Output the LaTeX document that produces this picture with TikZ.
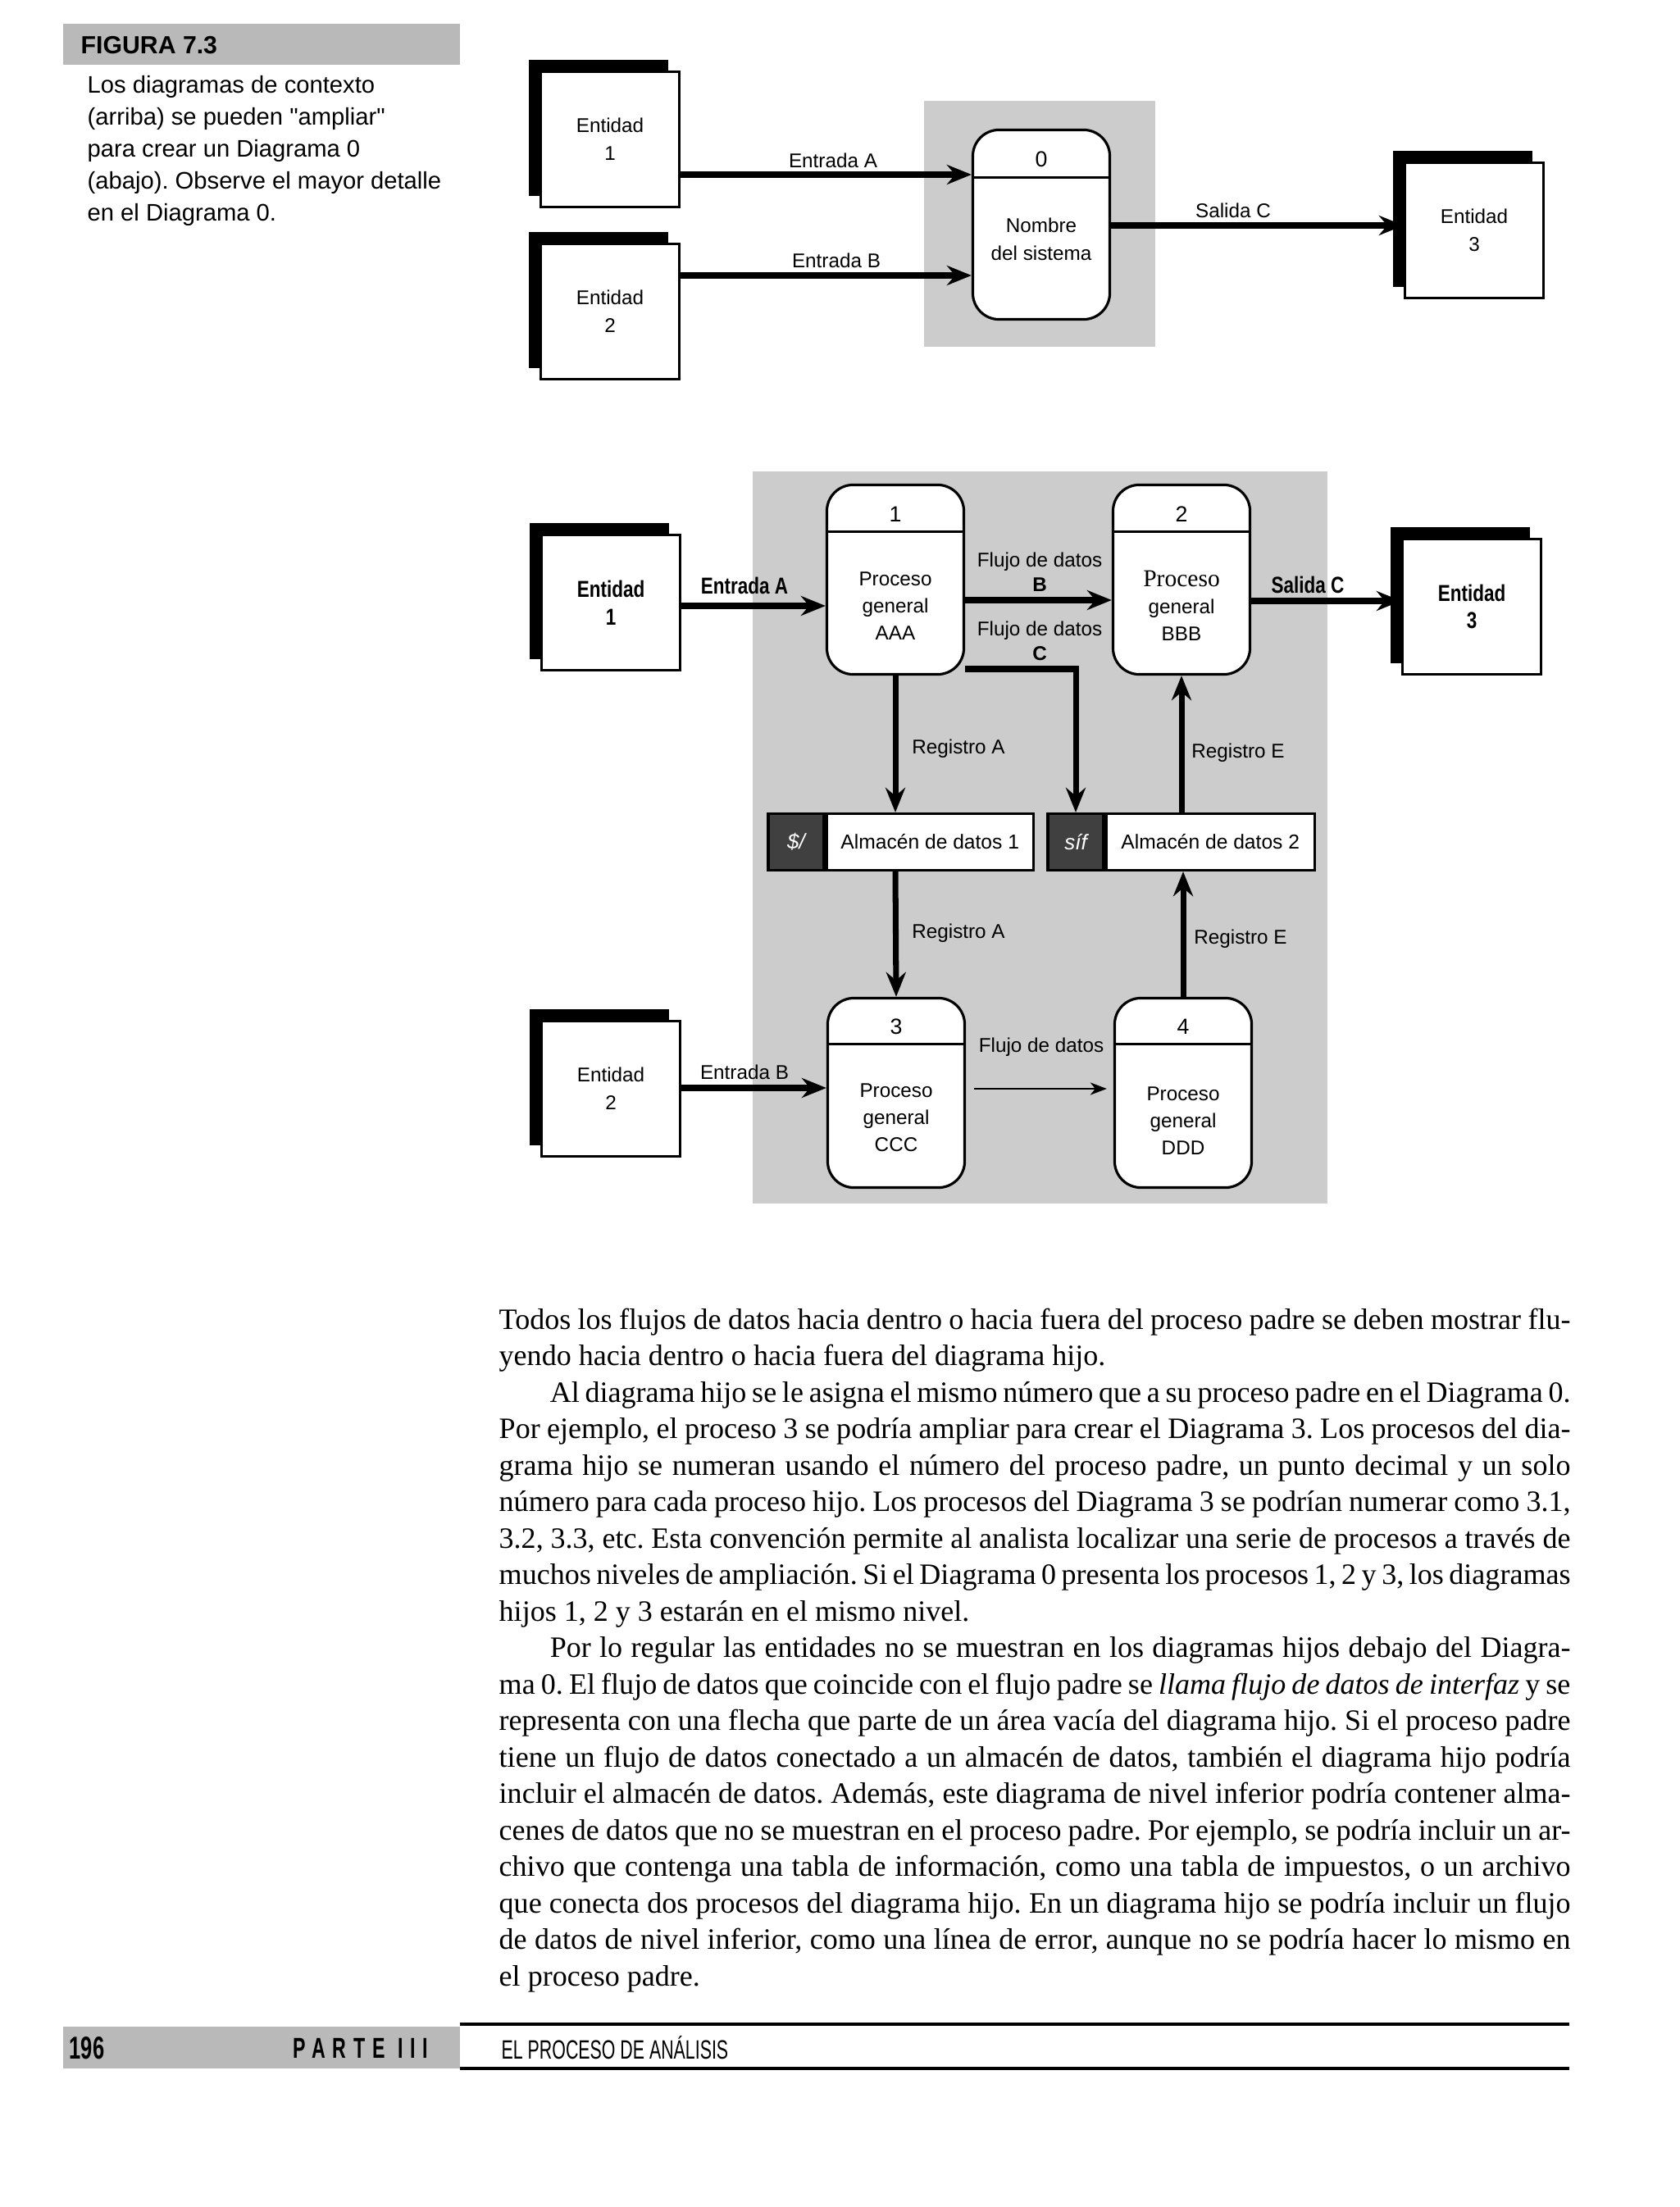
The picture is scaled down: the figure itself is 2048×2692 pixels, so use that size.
\documentclass[tikz,border=0pt]{standalone}
\usepackage{fontspec}
\setmainfont{Liberation Serif}
\setsansfont{Liberation Sans}
\newfontfamily\capsans{Liberation Sans}
\newfontfamily\narrowsans{Liberation Sans}[FakeStretch=0.8]
\newfontfamily\condsans{Liberation Sans}[FakeStretch=0.66]
\usetikzlibrary{arrows.meta,positioning,shadows}

\newlength\bodyw
\setlength\bodyw{13.06cm}
\newcommand\fullline[1]{\makebox[\bodyw][s]{#1}}
\newcommand\parind{\hspace*{0.62cm}}

\begin{document}
\frenchspacing
\begin{tikzpicture}[x=0.01cm,y=-0.01cm,
  entity/.style={draw,line width=0.9pt,fill=white,minimum width=1.69cm,minimum height=1.65cm,inner sep=0pt,align=center,
    font=\fontsize{6.9}{9.6}\selectfont\sffamily,
    drop shadow={shadow xshift=-0.14cm,shadow yshift=0.14cm,fill=black,opacity=1}},
  boldentity/.style={entity,font=\fontsize{8}{9.6}\selectfont\narrowsans\bfseries},
  proc/.style={draw,line width=0.9pt,fill=white,rounded corners=0.32cm,minimum width=1.67cm,minimum height=2.31cm,inner sep=0pt},
  ptext/.style={align=center,inner sep=0pt,font=\fontsize{6.9}{9.4}\selectfont\sffamily},
  pnum/.style={inner sep=0pt,font=\fontsize{7.6}{9}\selectfont\sffamily},
  lbl/.style={inner sep=0pt,align=center,font=\fontsize{6.9}{8.5}\selectfont\sffamily},
  boldlbl/.style={inner sep=0pt,font=\fontsize{8}{9}\selectfont\narrowsans\bfseries},
  storeid/.style={draw,line width=0.9pt,fill=black!75,text=white,minimum width=0.68cm,minimum height=0.69cm,inner sep=0pt,
    font=\fontsize{7.4}{8}\selectfont\sffamily\itshape},
  store/.style={draw,line width=0.9pt,fill=white,minimum height=0.69cm,inner sep=0pt,font=\fontsize{7}{8}\selectfont\sffamily},
  flow/.style={line width=2pt,line join=miter,-{Stealth[length=0.3cm,width=0.24cm,inset=0.1cm]}},
  thinflow/.style={line width=0.8pt,-{Stealth[length=0.2cm,width=0.15cm,inset=0.06cm]}},
  halftone/.style={fill=gray!40},
  seprule/.style={line width=0.9pt}
]
\fill[white] (0,0) rectangle (2048,2692);
\useasboundingbox (0,0) rectangle (2048,2692);

% caption
\fill[gray!55] (77,29) rectangle (561,79);
\node[anchor=west,inner sep=0pt,font=\fontsize{8.6}{10}\selectfont\sffamily\bfseries] (fig) at (98,55) {FIGURA 7.3};
\node[anchor=north west,inner sep=0pt,align=left,font=\fontsize{8.3}{11.1}\selectfont\capsans] (caption) at (106,92)
  {Los diagramas de contexto\\(arriba) se pueden "ampliar"\\para crear un Diagrama 0\\(abajo). Observe el mayor detalle\\en el Diagrama 0.};

% context diagram
\fill[halftone] (1127,123) rectangle (1409,423);
\node[entity] (e1) at (744,170) {Entidad\\1};
\node[entity] (e2) at (744,380) {Entidad\\2};
\node[entity] (e3) at (1798,281) {Entidad\\3};
\node[proc] (p0) at (1270,274) {};
\draw[seprule] ([yshift=-0.6cm]p0.north west) -- ([yshift=-0.6cm]p0.north east);
\node[pnum] (p0n) at (1270,194) {0};
\node[ptext,font=\fontsize{6.9}{9.7}\selectfont\sffamily] (p0t) at (1270,292) {Nombre\\del sistema};
\draw[flow] (e1.east |- 0,213) -- (p0.west |- 0,213);
\draw[flow] (e2.east |- 0,336) -- (p0.west |- 0,336);
\draw[flow] (p0.east |- 0,275) -- (e3.west |- 0,275);
\node[lbl] (la) at (1016,196) {Entrada A};
\node[lbl] (lb) at (1020,318) {Entrada B};
\node[lbl] (lc) at (1504,257) {Salida C};

% diagram 0
\fill[halftone] (918,575) rectangle (1619,1468);
\node[boldentity] (be1) at (745,735) {Entidad\\1};
\node[entity] (be2) at (745,1328) {Entidad\\2};
\node[boldentity] (be3) at (1795,740) {Entidad\\3};

\node[proc] (p1) at (1092,707) {};
\node[proc] (p2) at (1441,707) {};
\node[proc] (p3) at (1093,1333) {};
\node[proc] (p4) at (1443,1333) {};
\draw[seprule] ([yshift=-0.59cm]p1.north west) -- ([yshift=-0.59cm]p1.north east);
\draw[seprule] ([yshift=-0.59cm]p2.north west) -- ([yshift=-0.59cm]p2.north east);
\draw[seprule] ([yshift=-0.58cm]p3.north west) -- ([yshift=-0.58cm]p3.north east);
\draw[seprule] ([yshift=-0.58cm]p4.north west) -- ([yshift=-0.58cm]p4.north east);
\node[pnum] (p1n) at (1092,627) {1};
\node[pnum] (p2n) at (1441,627) {2};
\node[pnum] (p3n) at (1093,1252) {3};
\node[pnum] (p4n) at (1443,1252) {4};
\node[ptext] (p1t) at (1092,739) {Proceso\\general\\AAA};
\node[ptext] (p2t) at (1441,739) {{\rmfamily\fontsize{8.4}{9.4}\selectfont Proceso}\\general\\BBB};
\node[ptext] (p3t) at (1093,1363) {Proceso\\general\\CCC};
\node[ptext] (p4t) at (1443,1367) {Proceso\\general\\DDD};

\node[storeid] (s1id) at (971,1027) {\$/};
\node[store,minimum width=2.52cm,right=0pt of s1id] (s1) {Almacén de datos 1};
\node[storeid] (s2id) at (1312,1027) {síf};
\node[store,minimum width=2.54cm,right=0pt of s2id] (s2) {Almacén de datos 2};

\draw[flow] (be1.east |- 0,739) -- (p1.west |- 0,739);
\draw[flow] (be2.east |- 0,1327) -- (p3.west |- 0,1327);
\draw[flow] (p2.east |- 0,733) -- (be3.west |- 0,733);
\draw[flow] (p1.east |- 0,732) -- (p2.west |- 0,732);
\draw[flow] (p1.east |- 0,816) -| (s2id.north);
\draw[flow] (p1.south) -- (p1.south |- s1.north);
\draw[flow] (p1.south |- s1.south) -- (p3.north);
\draw[flow] (p2.south |- s2.north) -- (p2.south);
\draw[flow] (p4.north) -- (p4.north |- s2.south);
\draw[thinflow,shorten <=0.1cm,shorten >=0.08cm] (p3.east |- 0,1328) -- (p4.west |- 0,1328);

\node[boldlbl] (bla) at (908,714) {Entrada A};
\node[lbl] (blb) at (908,1308) {Entrada B};
\node[boldlbl] (blc) at (1595,713) {Salida C};
\node[lbl] (lfb) at (1268,698) {Flujo de datos\\\textbf{B}};
\node[lbl] (lfc) at (1268,782) {Flujo de datos\\\textbf{C}};
\node[lbl] (lra1) at (1169,913) {Registro A};
\node[lbl] (lre1) at (1510,918) {Registro E};
\node[lbl] (lra2) at (1169,1138) {Registro A};
\node[lbl] (lre2) at (1513,1145) {Registro E};
\node[lbl] (lfd) at (1270,1277) {Flujo de datos};

% body text
\node[anchor=north west,inner sep=0pt,align=left,font=\fontsize{10.25}{12.66}\selectfont] (body) at (608,1595) {%
\fullline{Todos los flujos de datos hacia dentro o hacia fuera del proceso padre se deben mostrar flu-}\\
yendo hacia dentro o hacia fuera del diagrama hijo.\\
\fullline{\parind Al diagrama hijo se le asigna el mismo número que a su proceso padre en el Diagrama 0.}\\
\fullline{Por ejemplo, el proceso 3 se podría ampliar para crear el Diagrama 3. Los procesos del dia-}\\
\fullline{grama hijo se numeran usando el número del proceso padre, un punto decimal y un solo}\\
\fullline{número para cada proceso hijo. Los procesos del Diagrama 3 se podrían numerar como 3.1,}\\
\fullline{3.2, 3.3, etc. Esta convención permite al analista localizar una serie de procesos a través de}\\
\fullline{muchos niveles de ampliación. Si el Diagrama 0 presenta los procesos 1, 2 y 3, los diagramas}\\
hijos 1, 2 y 3 estarán en el mismo nivel.\\
\fullline{\parind Por lo regular las entidades no se muestran en los diagramas hijos debajo del Diagra-}\\
\fullline{ma 0. El flujo de datos que coincide con el flujo padre se \textit{llama flujo de datos de interfaz} y se}\\
\fullline{representa con una flecha que parte de un área vacía del diagrama hijo. Si el proceso padre}\\
\fullline{tiene un flujo de datos conectado a un almacén de datos, también el diagrama hijo podría}\\
\fullline{incluir el almacén de datos. Además, este diagrama de nivel inferior podría contener alma-}\\
\fullline{cenes de datos que no se muestran en el proceso padre. Por ejemplo, se podría incluir un ar-}\\
\fullline{chivo que contenga una tabla de información, como una tabla de impuestos, o un archivo}\\
\fullline{que conecta dos procesos del diagrama hijo. En un diagrama hijo se podría incluir un flujo}\\
\fullline{de datos de nivel inferior, como una línea de error, aunque no se podría hacer lo mismo en}\\
el proceso padre.};

% footer
\fill[gray!55] (77,2472) rectangle (561,2523);
\draw[line width=0.9pt] (561,2469) -- (1914,2469);
\draw[line width=0.9pt] (561,2523) -- (1914,2523);
\node[anchor=west,inner sep=0pt,font=\fontsize{11}{12}\selectfont\condsans\bfseries] (pagenum) at (84,2498) {196};
\node[inner sep=0pt,font=\fontsize{10}{12}\selectfont\condsans\bfseries\addfontfeature{LetterSpace=25}] (parte) at (440,2498) {PARTE III};
\node[anchor=west,inner sep=0pt,font=\fontsize{9.2}{11}\selectfont\condsans] (running) at (611,2498) {EL PROCESO DE ANÁLISIS};
\end{tikzpicture}
\end{document}
